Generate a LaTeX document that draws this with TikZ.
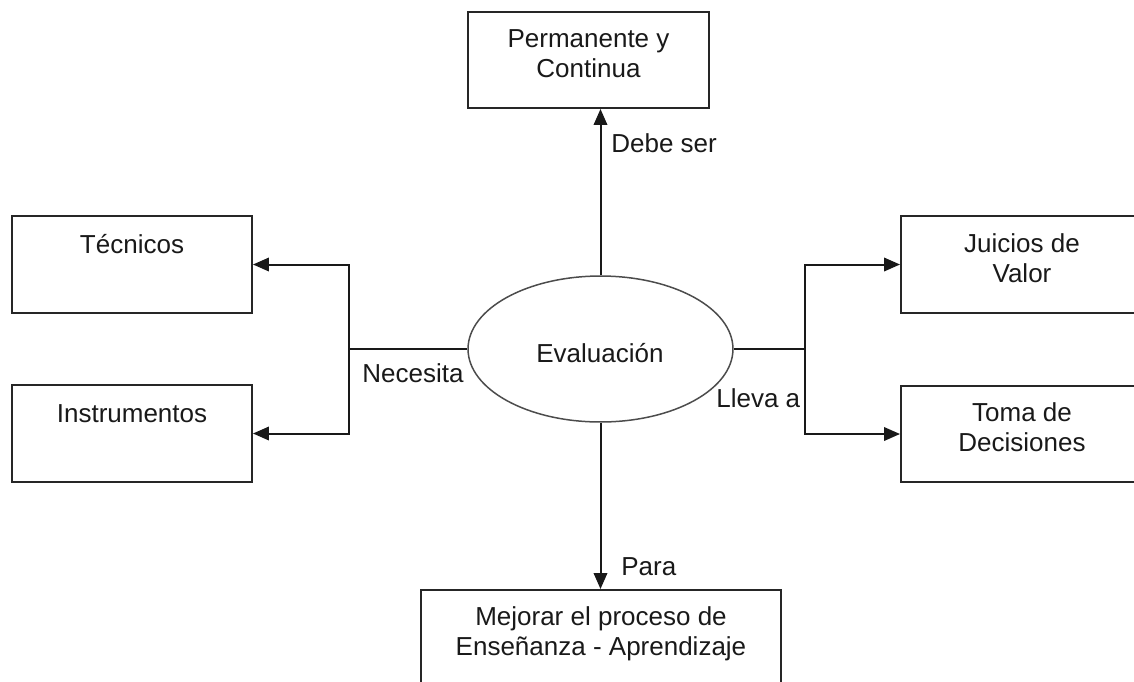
\documentclass[tikz,border=0pt]{standalone}
\usepackage{fontspec}
\setmainfont{Liberation Sans}
\usetikzlibrary{shapes.geometric,arrows.meta}

\begin{document}
\begin{tikzpicture}[x=0.02cm,y=-0.02cm,
    box/.style={draw=black!85,line width=0.04cm,inner sep=0pt},
    txt/.style={align=center,inner sep=0pt,text=black!90,font=\fontsize{14.8}{17.2}\selectfont},
    lbl/.style={anchor=base west,inner sep=0pt,text=black!90,font=\fontsize{14.8}{17.2}\selectfont},
    line/.style={draw=black!90,line width=0.04cm},
    arr/.style={line,-{Triangle[length=0.32cm,width=0.27cm]}}]
            \useasboundingbox (0,0) rectangle (1134,681);

            % cajas
            \node[box,minimum width=4.82cm,minimum height=1.92cm] (perm) at (588.5,60) {};
            \node[txt] (permtxt) at (588.5,53.5) {Permanente y\\Continua};

            \node[box,minimum width=4.8cm,minimum height=1.94cm] (tec) at (132,264.5) {};
            \node[txt,anchor=base] (tectxt) at (132,253) {Técnicos};

            \node[box,minimum width=4.8cm,minimum height=1.94cm] (ins) at (132,433.5) {};
            \node[txt,anchor=base] (instxt) at (132,422) {Instrumentos};

            \node[box,minimum width=5.2cm,minimum height=1.94cm] (jui) at (1031,264.5) {};
            \node[txt] (juitxt) at (1022,258.5) {Juicios de\\Valor};

            \node[box,minimum width=5.2cm,minimum height=1.92cm] (tom) at (1031,434) {};
            \node[txt] (tomtxt) at (1022,427.5) {Toma de\\Decisiones};

            \node[box,minimum width=7.2cm,minimum height=2.2cm] (mej) at (601,645) {};
            \node[txt] (mejtxt) at (601,634) {Mejorar el proceso de\\Enseñanza - Aprendizaje};

            \node[ellipse,draw=black!70,line width=0.03cm,minimum width=5.3cm,minimum height=2.92cm,inner sep=0pt] (eval) at (600.5,349) {};
            \node[txt,anchor=base] (evaltxt) at (600,362) {Evaluación};

            % conectores
            \coordinate (izq) at (349,349);
            \coordinate (der) at (805,349);

            \draw[line] (eval.west) -- (izq);
            \draw[arr] (izq) |- (tec.east);
            \draw[arr] (izq) |- (ins.east);

            \draw[line] (eval.east) -- (der);
            \draw[arr] (der) |- (jui.west);
            \draw[arr] (der) |- (tom.west);

            \draw[arr] (eval.north) -- (eval.north |- perm.south);
            \draw[arr] (eval.south) -- (eval.south |- mej.north);

            \node[lbl] (debe) at (611,152) {Debe ser};
            \node[lbl] (para) at (621,575) {Para};
            \node[lbl] (nec) at (362,382) {Necesita};
            \node[lbl] (lleva) at (716,407) {Lleva a};
        \end{tikzpicture}
\end{document}
